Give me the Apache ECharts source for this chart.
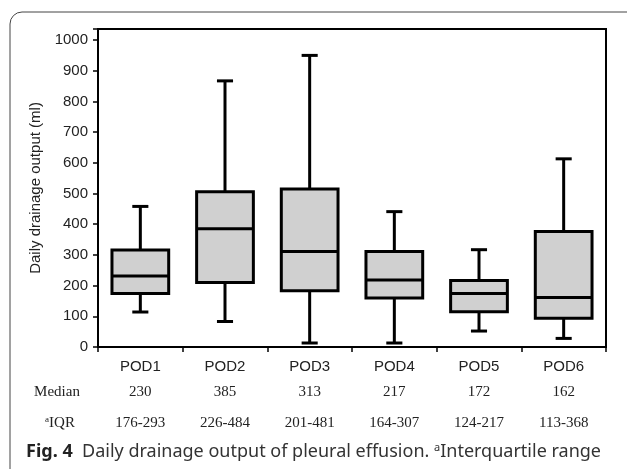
<!DOCTYPE html>
<html>
<head>
<meta charset="utf-8">
<script src="https://cdn.jsdelivr.net/npm/echarts@6/dist/echarts.min.js"></script>
<style>
  html, body { margin: 0; padding: 0; background: #fff; }
  #chart { width: 627px; height: 469px; }
</style>
</head>
<body>
<div id="chart"></div>
<script>
// 数据
var categories = ['POD1', 'POD2', 'POD3', 'POD4', 'POD5', 'POD6'];
var whiskerLow = [114, 83, 13, 13, 52, 28];
var boxLow = [174, 210, 183, 160, 115, 94];
var boxMid = [231, 385, 311, 218, 174, 161];
var boxHigh = [316, 506, 515, 311, 217, 376];
var whiskerHigh = [458, 867, 950, 441, 317, 613];
var medianText = ['230', '385', '313', '217', '172', '162'];
var iqrText = ['176-293', '226-484', '201-481', '164-307', '124-217', '113-368'];

var boxData = categories.map(function (c, i) {
    return [i, whiskerLow[i], boxLow[i], boxMid[i], boxHigh[i], whiskerHigh[i]];
});

function renderBox(params, api) {
    var idx = api.value(0);
    var band = api.size([1, 0])[0];
    var boxW = band * 0.67;
    var capW = band * 0.19;
    var pMin = api.coord([idx, api.value(1)]);
    var pQ1 = api.coord([idx, api.value(2)]);
    var pMed = api.coord([idx, api.value(3)]);
    var pQ3 = api.coord([idx, api.value(4)]);
    var pMax = api.coord([idx, api.value(5)]);
    var x = pMed[0];
    var ln = { stroke: '#000', lineWidth: 3 };
    return {
        type: 'group',
        children: [
            { type: 'line', shape: { x1: x, y1: pMax[1], x2: x, y2: pQ3[1] }, style: ln },
            { type: 'line', shape: { x1: x, y1: pQ1[1], x2: x, y2: pMin[1] }, style: ln },
            { type: 'line', shape: { x1: x - capW / 2, y1: pMax[1], x2: x + capW / 2, y2: pMax[1] }, style: ln },
            { type: 'line', shape: { x1: x - capW / 2, y1: pMin[1], x2: x + capW / 2, y2: pMin[1] }, style: ln },
            {
                type: 'rect',
                shape: { x: x - boxW / 2, y: pQ3[1], width: boxW, height: pQ1[1] - pQ3[1] },
                style: { fill: '#d0d0d0', stroke: '#000', lineWidth: 3 }
            },
            { type: 'line', shape: { x1: x - boxW / 2, y1: pMed[1], x2: x + boxW / 2, y2: pMed[1] }, style: ln }
        ]
    };
}

var option = {
    animation: false,
    backgroundColor: '#fff',
    grid: {
        left: 98,
        right: 21,
        top: 29,
        bottom: 122,
        show: true,
        borderColor: '#000',
        borderWidth: 2
    },
    xAxis: {
        type: 'category',
        data: categories,
        axisLine: { lineStyle: { color: '#000', width: 2 } },
        axisTick: { show: true, interval: 0, length: 5, lineStyle: { color: '#000', width: 1.5 } },
        axisLabel: {
            interval: 0,
            margin: 9,
            formatter: function (v, i) {
                return '{pod|' + v + '}\n{med|' + medianText[i] + '}\n{iqr|' + iqrText[i] + '}';
            },
            rich: {
                pod: { fontFamily: 'Liberation Sans', fontSize: 15, color: '#222', lineHeight: 22 },
                med: { fontFamily: 'Liberation Serif', fontSize: 15, color: '#222', lineHeight: 28 },
                iqr: { fontFamily: 'Liberation Serif', fontSize: 15, color: '#222', lineHeight: 34 }
            }
        }
    },
    yAxis: {
        type: 'value',
        min: 0,
        max: 1036,
        interval: 100,
        name: 'Daily drainage output (ml)',
        nameLocation: 'middle',
        nameGap: 35,
        nameTextStyle: { fontFamily: 'Liberation Sans', fontSize: 15, color: '#222' },
        axisLine: { show: true, lineStyle: { color: '#000', width: 2 } },
        axisTick: { show: true, length: 5, lineStyle: { color: '#000', width: 1.5 } },
        splitLine: { show: false },
        axisLabel: {
            margin: 10,
            fontFamily: 'Liberation Sans',
            fontSize: 15,
            color: '#222',
            formatter: function (v) {
                return v % 100 === 0 ? String(v) : '';
            }
        }
    },
    graphic: [
        {
            type: 'rect',
            shape: { x: 10, y: 12, width: 640, height: 470, r: 12 },
            style: { fill: 'none', stroke: '#444', lineWidth: 1 },
            silent: true
        },
        {
            type: 'text',
            x: 57, y: 392,
            style: {
                text: 'Median', fontFamily: 'Liberation Serif', fontSize: 15, fill: '#222',
                align: 'center', verticalAlign: 'middle'
            }
        },
        {
            type: 'text',
            x: 60, y: 423,
            style: {
                text: '{sup|a}{t|IQR}',
                align: 'center', verticalAlign: 'middle',
                rich: {
                    sup: { fontFamily: 'Liberation Serif', fontSize: 9, fill: '#222', verticalAlign: 'top', padding: [0, 0, 6, 0] },
                    t: { fontFamily: 'Liberation Serif', fontSize: 15, fill: '#222' }
                }
            }
        },
        {
            type: 'text',
            x: 26, y: 452,
            style: {
                text: '{b|Fig. 4}{n|  Daily drainage output of pleural effusion. }{sup|a}{n|Interquartile range}',
                verticalAlign: 'middle',
                rich: {
                    b: { fontFamily: 'Noto Sans', fontSize: 18, fontWeight: 'bold', fill: '#222' },
                    n: { fontFamily: 'Noto Sans', fontSize: 18, fill: '#333' },
                    sup: { fontFamily: 'Noto Sans', fontSize: 11, fill: '#333', padding: [0, 0, 8, 0] }
                }
            }
        }
    ],
    series: [
        {
            type: 'custom',
            renderItem: renderBox,
            encode: { x: 0, y: [1, 2, 3, 4, 5] },
            data: boxData
        }
    ]
};

var myChart = echarts.init(document.getElementById('chart'));
myChart.setOption(option);
</script>
</body>
</html>
